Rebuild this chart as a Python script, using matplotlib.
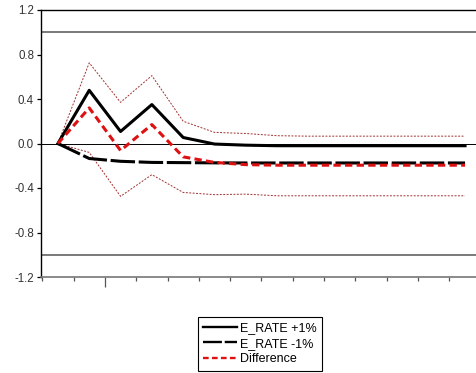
import matplotlib
matplotlib.use('Agg')
import matplotlib.pyplot as plt
import numpy as np

plt.rcParams['font.family'] = ['Liberation Sans', 'DejaVu Sans']

# impulse responses, 14 periods
periods = np.arange(14)
rate_up = [0.0, 0.478, 0.108, 0.35, 0.054, -0.005, -0.015, -0.02, -0.02, -0.02, -0.02, -0.02, -0.02, -0.02]
rate_down = [0.0, -0.135, -0.16, -0.17, -0.172, -0.174, -0.175, -0.175, -0.175, -0.175, -0.175, -0.175, -0.175, -0.175]
difference = [0.0, 0.32, -0.063, 0.17, -0.12, -0.17, -0.19, -0.195, -0.195, -0.195, -0.195, -0.195, -0.195, -0.195]
band_upper = [0.0, 0.725, 0.37, 0.61, 0.2, 0.10, 0.09, 0.07, 0.066, 0.066, 0.066, 0.066, 0.066, 0.066]
band_lower = [0.0, -0.08, -0.475, -0.28, -0.44, -0.46, -0.455, -0.47, -0.47, -0.47, -0.47, -0.47, -0.47, -0.47]

y_ticks = [-1.2, -0.8, -0.4, 0.0, 0.4, 0.8, 1.2]

fig = plt.figure(figsize=(4.76, 3.73), dpi=100)
ax = fig.add_axes([41 / 476, 1 - 277 / 373, 1 - 41 / 476, (277 - 10) / 373])

ax.axhline(1.0, color='#555555', lw=1.1, zorder=1)
ax.axhline(-1.0, color='#555555', lw=1.1, zorder=1)
ax.axhline(0.0, color='black', lw=0.7, zorder=1)

ax.plot(periods, band_upper, color='#a03030', lw=0.7, ls=(0, (2, 1.5)), zorder=2)
ax.plot(periods, band_lower, color='#a03030', lw=0.7, ls=(0, (2, 1.5)), zorder=2)
ax.plot(periods, rate_up, color='black', lw=2.2, label='E_RATE +1%', zorder=4)
ax.plot(periods, rate_down, color='black', lw=2.2, dashes=(8, 1.2), label='E_RATE -1%', zorder=3)
ax.plot(periods, difference, color='#dd1111', lw=2.2, dashes=(2.4, 1.4), label='Difference', zorder=5)

ax.set_ylim(-1.2, 1.2)
ax.set_xlim(-0.54, 13.35)
ax.set_yticks(y_ticks)
ax.set_yticklabels(['%.1f' % v for v in y_ticks], fontsize=8.3, color='#333333')
ax.set_xticks([1.5])
ax.set_xticklabels([])
ax.set_xticks(np.arange(-0.5, 13, 1.0), minor=True)
ax.tick_params(axis='x', which='major', length=7, width=0.9, color='#555555')
ax.tick_params(axis='x', which='minor', length=3, width=0.9, color='#555555')
ax.tick_params(axis='y', length=3, width=0.9, pad=2)

ax.spines['right'].set_visible(False)
ax.spines['top'].set_linewidth(1.0)
ax.spines['left'].set_linewidth(1.0)
ax.spines['bottom'].set_color('#777777')
ax.spines['bottom'].set_linewidth(1.2)

handles, labels = ax.get_legend_handles_labels()
leg = fig.legend(handles, labels, loc='upper left', bbox_to_anchor=(198 / 476, 1 - 317 / 373),
                 borderaxespad=0, fontsize=9, handlelength=2.7, labelspacing=0.3,
                 handletextpad=0.25, fancybox=False, framealpha=1, edgecolor='black',
                 borderpad=0.4)
leg.get_frame().set_linewidth(0.8)
for line in leg.get_lines():
    line.set_linewidth(1.7)

fig.savefig('out.png', dpi=100)
